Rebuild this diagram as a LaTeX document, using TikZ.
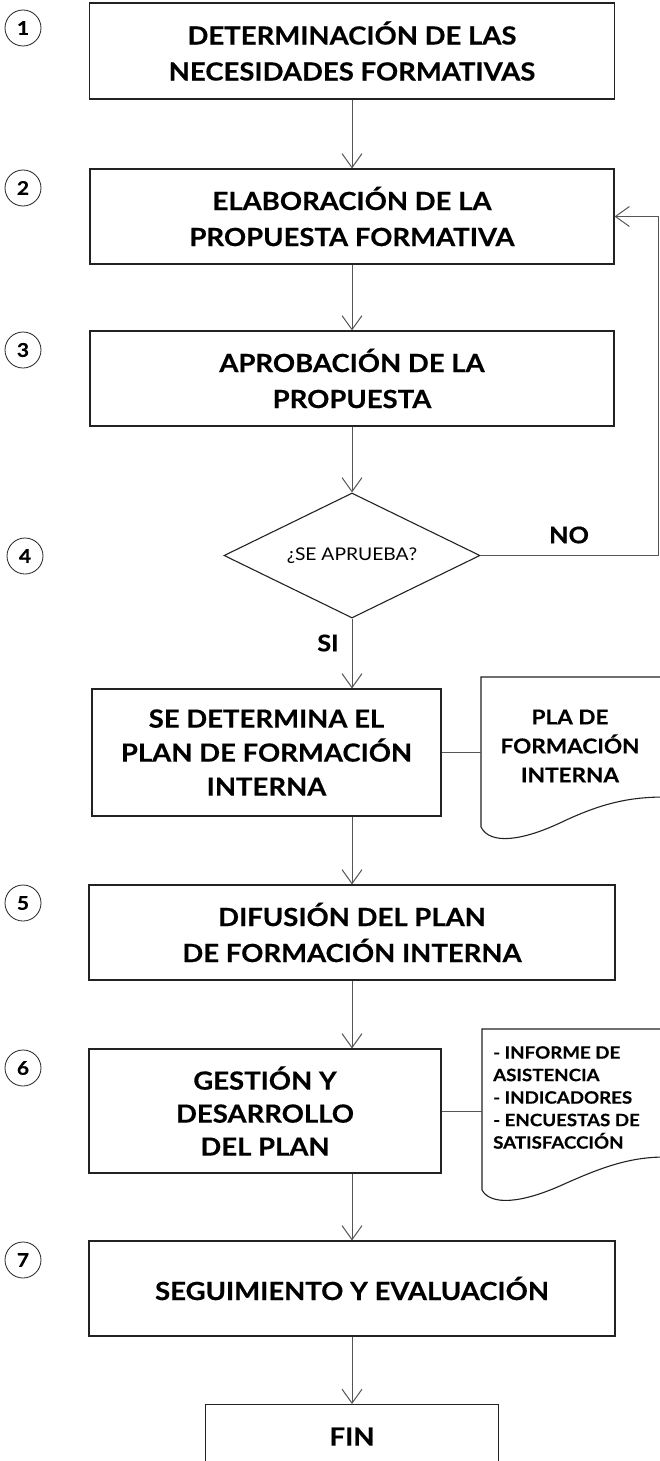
\documentclass[tikz,border=0pt]{standalone}
\usepackage{fontspec}
\setmainfont{Lato}[FakeStretch=1.1, BoldFeatures={FakeBold=0.4}]
\usetikzlibrary{shapes.geometric,arrows.meta}
\definecolor{ink}{HTML}{222222}
\definecolor{wire}{HTML}{555555}
\tikzset{
  stepbox/.style={draw=ink, line width=1.1pt, align=center, inner sep=0pt,
    font=\bfseries\fontsize{25}{36}\selectfont},
  wirearrow/.style={draw=wire, line width=1pt,
    -{Straight Barb[length=14pt,width=20pt,line width=1pt]}},
  wireplain/.style={draw=wire, line width=1pt},
  numcircle/.style={circle, draw=ink, line width=0.8pt, minimum size=36pt,
    inner sep=0pt, font=\bfseries\fontsize{19}{19}\selectfont},
  docshape/.style={draw=ink, line width=1.1pt},
  flowlabel/.style={font=\bfseries\fontsize{23}{23}\selectfont, inner sep=0pt}
}
\begin{document}
\begin{tikzpicture}[x=1pt,y=-1pt]
\useasboundingbox (0,0) rectangle (659,1461);
% step numbers
\node[numcircle] (c1) at (23,28) {1};
\node[numcircle] (c2) at (23,188) {2};
\node[numcircle] (c3) at (23,350) {3};
\node[numcircle] (c4) at (25,556) {4};
\node[numcircle] (c5) at (23,903) {5};
\node[numcircle] (c6) at (23,1068) {6};
\node[numcircle] (c7) at (23,1260) {7};
% boxes
\node[stepbox, minimum width=525pt, minimum height=96pt] (b1) at (352,51)
  {DETERMINACIÓN DE LAS\\NECESIDADES FORMATIVAS};
\node[stepbox, minimum width=524pt, minimum height=95pt] (b2) at (352,216.5)
  {ELABORACIÓN DE LA\\PROPUESTA FORMATIVA};
\node[stepbox, minimum width=524pt, minimum height=95pt] (b3) at (352,378.5)
  {APROBACIÓN DE LA\\PROPUESTA};
\node[diamond, aspect=2.05, draw=ink, line width=1.1pt, inner sep=0pt, minimum width=256pt,
  minimum height=125pt, font=\fontsize{17.5}{17.5}\selectfont] (dia) at (352,555.5) {¿SE APRUEBA?};
\node[stepbox, minimum width=349pt, minimum height=127pt,
  font=\bfseries\fontsize{25}{34}\selectfont] (det) at (266.5,752.5)
  {SE DETERMINA EL\\PLAN DE FORMACIÓN\\INTERNA};
\node[stepbox, minimum width=526pt, minimum height=95pt] (b5) at (352,932.5)
  {DIFUSIÓN DEL PLAN\\DE FORMACIÓN INTERNA};
\node[stepbox, minimum width=352pt, minimum height=124pt,
  font=\bfseries\fontsize{25}{33}\selectfont] (b6) at (265,1111)
  {GESTIÓN Y\\DESARROLLO\\DEL PLAN};
\node[stepbox, minimum width=526pt, minimum height=95pt] (b7) at (352,1288.5)
  {SEGUIMIENTO Y EVALUACIÓN};
\node[stepbox, minimum width=293pt, minimum height=64pt, anchor=north] (fin) at (352,1404)
  {FIN};
% documents
\coordinate (d1w) at (481,677);
\draw[docshape] (665,677) -- (d1w) -- (481,827)
  .. controls (490,845) and (522,841) .. (562,822)
  .. controls (602,803) and (630,797) .. (665,797);
\node[align=center, inner sep=0pt, font=\bfseries\fontsize{20.5}{29}\selectfont] (doc1) at (570,746)
  {PLA DE\\FORMACIÓN\\INTERNA};
\coordinate (d2w) at (482,1029);
\draw[docshape] (665,1029) -- (d2w) -- (482,1190)
  .. controls (491,1206) and (522,1203) .. (562,1185)
  .. controls (602,1167) and (630,1157) .. (665,1157);
\node[align=left, anchor=north west, inner sep=0pt, font=\bfseries\fontsize{17}{22.5}\selectfont] (doc2) at (493,1046)
  {- INFORME DE\\ASISTENCIA\\- INDICADORES\\- ENCUESTAS DE\\SATISFACCIÓN};
% connectors
\draw[wirearrow] (b1) -- (b2);
\draw[wirearrow] (b2) -- (b3);
\draw[wirearrow] (b3) -- (dia);
\draw[wirearrow] (dia.south) -- (det.north -| dia.south);
\draw[wirearrow] (det.south -| b5.north) -- (b5.north);
\draw[wirearrow] (b5.south) -- (b6.north -| b5.south);
\draw[wirearrow] (b6.south -| b7.north) -- (b7.north);
\draw[wirearrow] (b7) -- (fin);
\coordinate (loopx) at (658,0);
\draw[wirearrow] (dia.east) -- (dia.east -| loopx) |- (b2.east);
\draw[wireplain] (det.east) -- (det.east -| d1w);
\draw[wireplain] (b6.east) -- (b6.east -| d2w);
% labels
\node[flowlabel] (no) at (569,535) {NO};
\node[flowlabel] (si) at (328,643) {SI};
\end{tikzpicture}
\end{document}
